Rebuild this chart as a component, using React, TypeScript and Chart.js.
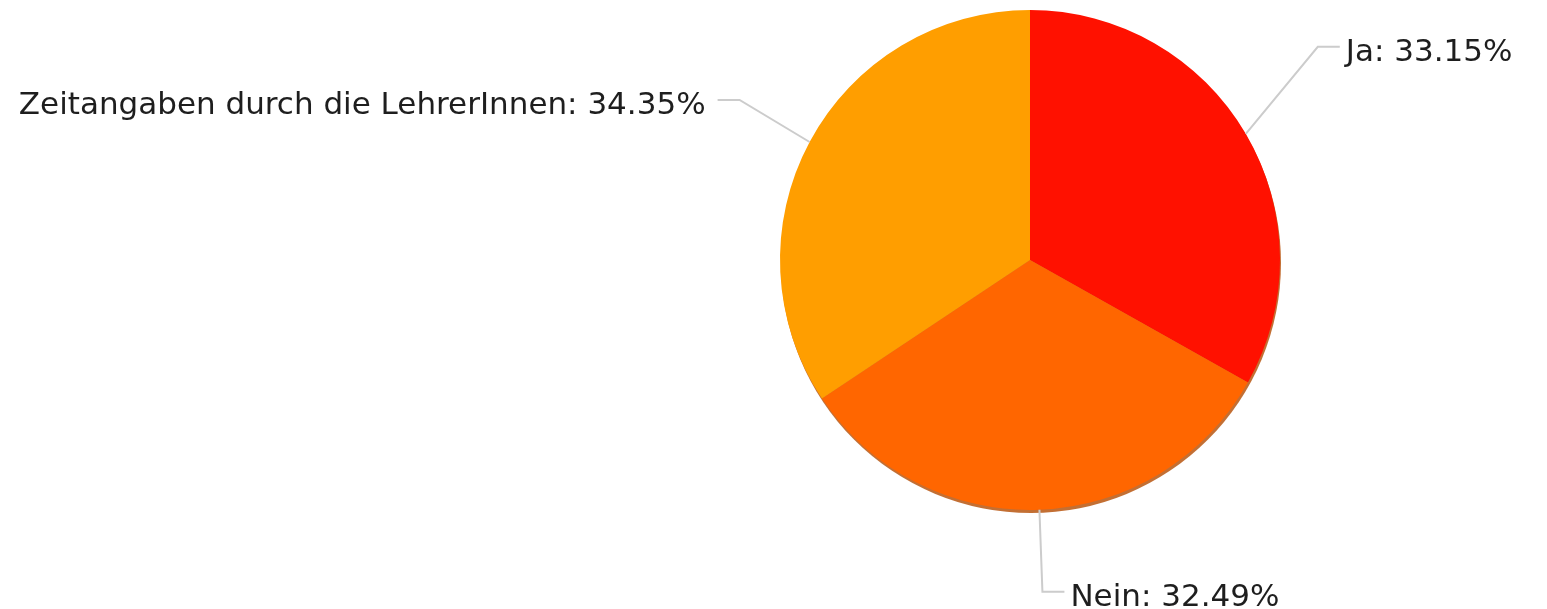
import React, { useEffect, useRef } from "react";
import { Chart, registerables } from "chart.js";

Chart.register(...registerables);

const categories = ["Ja", "Nein", "Zeitangaben durch die LehrerInnen"];
const percentages = [33.15, 32.49, 34.35];
const sliceColors = ["#ff1100", "#ff6600", "#ff9e00"];
// leader-line elbow offsets from the slice edge (layout only)
const leaderOffsets = [
  [72, -87],
  [3, 82],
  [-70, -42],
];

const FONT = "31px 'DejaVu Sans', Verdana, sans-serif";

const shadowPlugin = {
  id: "pieShadow",
  beforeDatasetsDraw(chart: any) {
    const meta = chart.getDatasetMeta(0);
    const arc = meta.data[0];
    if (!arc) return;
    const { x, y, outerRadius } = arc.getProps(["x", "y", "outerRadius"], true);
    const ctx = chart.ctx;
    ctx.save();
    ctx.beginPath();
    ctx.arc(x + 1, y + 3, outerRadius, 0, Math.PI * 2);
    ctx.fillStyle = "rgba(180,75,0,0.8)";
    ctx.fill();
    ctx.restore();
  },
};

const labelPlugin = {
  id: "leaderLabels",
  afterDatasetsDraw(chart: any) {
    const meta = chart.getDatasetMeta(0);
    const ctx = chart.ctx;
    ctx.save();
    meta.data.forEach((arc: any, i: number) => {
      const { x, y, startAngle, endAngle, outerRadius } = arc.getProps(
        ["x", "y", "startAngle", "endAngle", "outerRadius"],
        true
      );
      const mid = (startAngle + endAngle) / 2;
      const ex = x + outerRadius * Math.cos(mid);
      const ey = y + outerRadius * Math.sin(mid);
      const [dx, dy] = leaderOffsets[i];
      const bx = ex + dx;
      const by = ey + dy;
      const right = Math.cos(mid) >= 0;
      const hx = bx + (right ? 22 : -22);
      ctx.beginPath();
      ctx.moveTo(ex, ey);
      ctx.lineTo(bx, by);
      ctx.lineTo(hx, by);
      ctx.strokeStyle = "#cccccc";
      ctx.lineWidth = 2;
      ctx.stroke();
      const text = `${categories[i]}: ${percentages[i].toFixed(2)}%`;
      ctx.font = FONT;
      ctx.fillStyle = "#1e1e1e";
      ctx.textBaseline = "alphabetic";
      ctx.textAlign = right ? "left" : "right";
      ctx.fillText(text, hx + (right ? 6 : -12), by + 14);
    });
    ctx.restore();
  },
};

export default function App() {
  const ref = useRef<HTMLCanvasElement | null>(null);
  useEffect(() => {
    if (!ref.current) return;
    const chart = new Chart(ref.current, {
      type: "pie",
      data: {
        labels: categories,
        datasets: [
          {
            data: percentages,
            backgroundColor: sliceColors,
            borderWidth: 0,
          },
        ],
      },
      options: {
        responsive: false,
        animation: false,
        layout: { padding: { left: 780, right: 267, top: 10, bottom: 99 } },
        plugins: {
          legend: { display: false },
          tooltip: { enabled: false },
        },
      },
      plugins: [shadowPlugin, labelPlugin],
    });
    return () => chart.destroy();
  }, []);
  return (
    <div style={{ position: "absolute", left: 0, top: 0, width: 1547, height: 609, background: "#fff" }}>
      <canvas ref={ref} width={1547} height={609} style={{ width: 1547, height: 609 }} />
    </div>
  );
}
